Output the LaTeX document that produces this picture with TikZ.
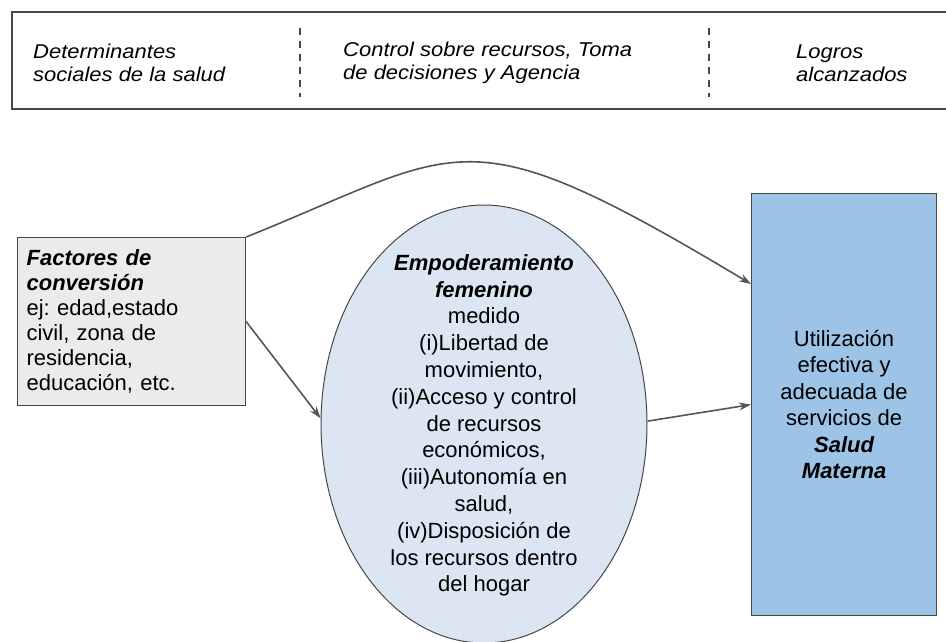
\documentclass[tikz,border=0pt]{standalone}
\usepackage{fontspec}
\setmainfont{Liberation Sans}
\newfontfamily\headfont[FakeStretch=1.1]{Liberation Sans}
\usetikzlibrary{shapes.geometric,arrows.meta,calc}
\frenchspacing

\definecolor{facgray}{RGB}{235,235,235}
\definecolor{empblue}{RGB}{220,230,242}
\definecolor{matblue}{RGB}{157,195,230}
\definecolor{arrgray}{RGB}{85,85,85}
\definecolor{edgegray}{RGB}{70,70,70}

\tikzset{
  hdrtext/.style={anchor=west, align=left, inner sep=0pt, font=\headfont\itshape\fontsize{20}{23}\selectfont},
  sepline/.style={draw=edgegray, line width=1.2pt, dash pattern=on 7pt off 6pt},
  facbox/.style={draw=edgegray, fill=facgray, line width=1.2pt, anchor=north west, align=left,
    text width=210pt, inner xsep=9pt, minimum width=228pt, minimum height=168pt,
    font=\fontsize{22}{25}\selectfont},
  empshape/.style={ellipse, draw=edgegray, fill=empblue, line width=1pt, inner sep=0pt,
    minimum width=326pt, minimum height=438pt},
  emptext/.style={align=center, inner sep=0pt, font=\fontsize{22}{26.8}\selectfont},
  matbox/.style={draw=edgegray, fill=matblue, line width=1.2pt, anchor=north west, align=center,
    minimum width=185pt, minimum height=422pt, inner sep=0pt, font=\fontsize{22}{26.5}\selectfont},
  arr/.style={draw=arrgray, line width=1.6pt, -{Stealth[length=12pt,width=8pt]}}
}

\begin{document}
\begin{tikzpicture}[x=1pt,y=1pt,yscale=-1]
    \useasboundingbox (0,0) rectangle (946,642);

    %Shape: header band
    \draw[draw=edgegray, line width=1.5pt] (12,12) rectangle (960,109);
    \draw[sepline] (300,28) -- (300,97);
    \draw[sepline] (709,28) -- (709,97);

    % Text Node
    \node[hdrtext] (detT) at (33,63) {Determinantes\\sociales de la salud};
    % Text Node
    \node[hdrtext] (ctrlT) at (343,63) {Control sobre recursos, Toma\\de decisiones y Agencia};
    % Text Node
    \node[hdrtext] (logT) at (796,63) {Logros\\alcanzados};

    %Shape: Rectangle
    \node[facbox] (fac) at (17,237) {{\bfseries\itshape Factores de}\\{\bfseries\itshape conversión}\\ej: edad,estado\\civil, zona de\\residencia,\\educación, etc.};

    %Shape: Ellipse
    \node[empshape] (emp) at (484,424) {};
    % Text Node
    \node[emptext] (empT) at ($(emp.center)+(0,1.5)$) {{\bfseries\itshape Empoderamiento}\\{\bfseries\itshape femenino}\\medido\\(i)Libertad de\\movimiento,\\(ii)Acceso y control\\de recursos\\económicos,\\(iii)Autonomía en\\salud,\\(iv)Disposición de\\los recursos dentro\\del hogar};

    %Shape: Rectangle
    \node[matbox] (mat) at (751,193) {Utilización\\efectiva y\\adecuada de\\servicios de\\{\bfseries\itshape Salud}\\{\bfseries\itshape Materna}};

    %Curve Lines
    \draw[arr] (fac.north east) .. controls (465,149) and (461,110) .. ($(mat.north west)!0.215!(mat.south west)$);
    %Straight Lines
    \draw[arr] (fac.east) -- (emp.178);
    %Straight Lines
    \draw[arr] (emp.1) -- (mat.west);

\end{tikzpicture}
\end{document}
